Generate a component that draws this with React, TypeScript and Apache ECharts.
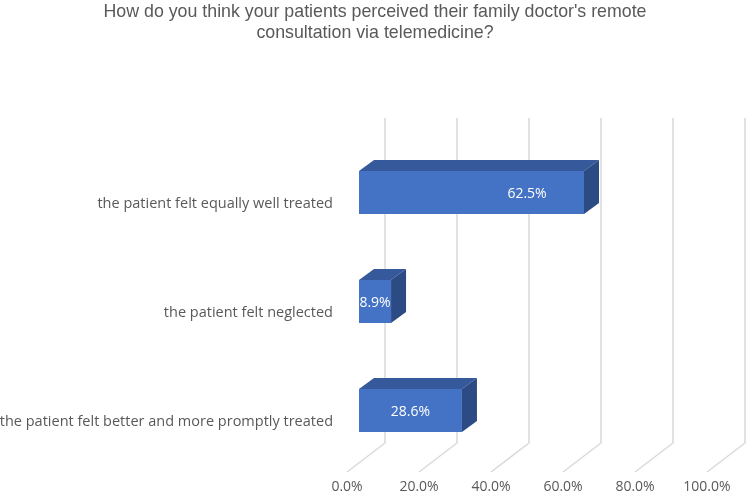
import React, { useEffect, useRef } from "react";
import * as echarts from "echarts";

const TITLE = "How do you think your patients perceived their family doctor's remote\nconsultation via telemedicine?";
const categories = [
  "the patient felt better and more promptly treated",
  "the patient felt neglected",
  "the patient felt equally well treated",
];
const values = [28.6, 8.9, 62.5];
const ticks = [0, 20, 40, 60, 80, 100];

const DX = 15;
const DY = -11;
const BAR_H = 43;
const FONT = "Open Sans";

export default function App() {
  const ref = useRef<HTMLDivElement>(null);
  useEffect(() => {
    if (!ref.current) return;
    const chart = echarts.init(ref.current, undefined, { renderer: "svg" });
    chart.setOption({
      animation: false,
      title: {
        text: TITLE,
        left: 375,
        top: 0,
        padding: 0,
        textAlign: "center",
        textStyle: {
          fontFamily: "Liberation Sans",
          fontSize: 17.8,
          fontWeight: "normal",
          color: "#595959",
          lineHeight: 21,
        },
      },
      grid: {
        left: 359,
        right: 31,
        top: 138,
        bottom: 33,
        containLabel: false,
        outerBoundsMode: "none",
      },
      xAxis: {
        type: "value",
        min: 0,
        max: 100,
        interval: 20,
        axisLine: { show: false },
        axisTick: { show: false },
        splitLine: { show: false },
        axisLabel: {
          formatter: (v: number) => v.toFixed(1) + "%",
          color: "#595959",
          fontFamily: FONT,
          fontSize: 14,
          margin: 13,
          padding: [0, 24, 0, 0],
        },
      },
      yAxis: {
        type: "category",
        data: categories,
        axisLine: { show: false },
        axisTick: { show: false },
        splitLine: { show: false },
        axisLabel: {
          color: "#595959",
          fontFamily: FONT,
          fontSize: 14.5,
          margin: 26,
          verticalAlign: "top",
          lineHeight: 19,
        },
      },
      series: [
        {
          type: "custom",
          silent: true,
          clip: false,
          z: 1,
          data: ticks.map((t) => [t, 0]),
          renderItem: (params: any, api: any) => {
            const cs = params.coordSys;
            const x = api.coord([api.value(0), 0])[0];
            const bottom = cs.y + cs.height;
            const style = { stroke: "#D9D9D9", lineWidth: 1.5, fill: "none" };
            return {
              type: "polyline",
              shape: {
                points: [
                  [x + 26, cs.y - 20],
                  [x + 26, bottom - 22],
                  [x - 12, bottom + 7],
                ],
              },
              style,
            };
          },
        },
        {
          type: "custom",
          silent: true,
          clip: false,
          z: 2,
          data: values.map((v, i) => [v, i]),
          renderItem: (params: any, api: any) => {
            const v = api.value(0);
            const idx = api.value(1);
            const p0 = api.coord([0, idx]);
            const p1 = api.coord([v, idx]);
            const x0 = p0[0];
            const x1 = p1[0];
            const yc = p0[1];
            const yt = yc - BAR_H / 2;
            const yb = yc + BAR_H / 2;
            const w = x1 - x0;
            const tx = Math.max(x0 + w / 2, x1 - 57);
            return {
              type: "group",
              children: [
                {
                  type: "polygon",
                  shape: {
                    points: [
                      [x0, yt],
                      [x0 + DX, yt + DY],
                      [x1 + DX, yt + DY],
                      [x1, yt],
                    ],
                  },
                  style: { fill: "#36599B" },
                },
                {
                  type: "polygon",
                  shape: {
                    points: [
                      [x1, yt],
                      [x1 + DX, yt + DY],
                      [x1 + DX, yb + DY],
                      [x1, yb],
                    ],
                  },
                  style: { fill: "#2C4A84" },
                },
                {
                  type: "rect",
                  shape: { x: x0, y: yt, width: w, height: BAR_H },
                  style: { fill: "#4472C4" },
                },
                {
                  type: "text",
                  x: tx,
                  y: yc,
                  style: {
                    text: v.toFixed(1) + "%",
                    fill: "#FFFFFF",
                    fontFamily: FONT,
                    fontSize: 14,
                    align: "center",
                    verticalAlign: "middle",
                  },
                },
              ],
            };
          },
        },
      ],
    });
    return () => chart.dispose();
  }, []);
  return (
    <div
      ref={ref}
      style={{ position: "fixed", left: 0, top: 0, width: 750, height: 498 }}
    />
  );
}
